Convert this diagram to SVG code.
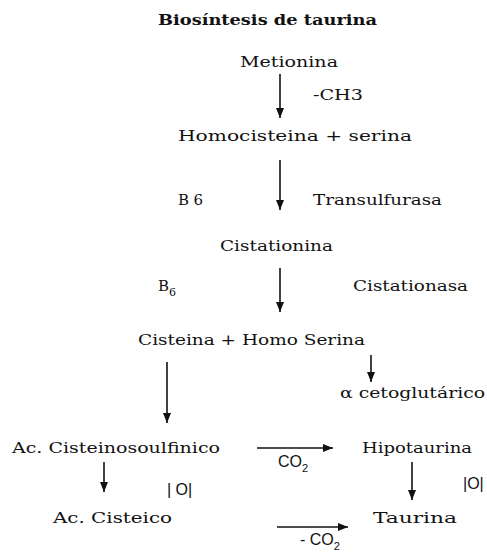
<svg xmlns="http://www.w3.org/2000/svg" width="487" height="554" viewBox="0 0 487 554">
<style>
.t{font-family:"DejaVu Serif","Liberation Serif",serif;font-size:15px;fill:#111}
.b{font-weight:bold;font-size:15px}
.s{font-family:"Liberation Sans","DejaVu Sans",sans-serif;font-size:16px;fill:#111}
.sub{font-size:11px}
.c{stroke:#111;stroke-width:1.6;fill:none;marker-end:url(#ah)}
</style>
<defs>
<marker id="ah" markerUnits="userSpaceOnUse" markerWidth="10" markerHeight="10" viewBox="0 0 10 10" refX="10" refY="5" orient="auto">
<path d="M0,1 L10,5 L0,9 Z" fill="#111"/>
</marker>
</defs>
<rect width="487" height="554" fill="#fff"/>
<g id="title"><text class="t b" x="158" y="25" textLength="219" lengthAdjust="spacingAndGlyphs">Biosíntesis de taurina</text></g>
<g id="metionina"><text class="t" x="240" y="67" textLength="98" lengthAdjust="spacingAndGlyphs">Metionina</text></g>
<g id="ch3"><text class="t" x="313" y="100" textLength="50" lengthAdjust="spacingAndGlyphs">-CH3</text></g>
<g id="homocisteina"><text class="t" x="178" y="141" textLength="234" lengthAdjust="spacingAndGlyphs">Homocisteina +  serina</text></g>
<g id="b6a"><text class="t" x="178" y="205" textLength="25" lengthAdjust="spacing">B6</text></g>
<g id="transulfurasa"><text class="t" x="313" y="205" textLength="129" lengthAdjust="spacingAndGlyphs">Transulfurasa</text></g>
<g id="cistationina"><text class="t" x="220" y="251" textLength="113" lengthAdjust="spacingAndGlyphs">Cistationina</text></g>
<g id="b6b"><text class="t" x="158" y="291">B<tspan class="sub" dy="5">6</tspan></text></g>
<g id="cistationasa"><text class="t" x="353" y="291" textLength="115" lengthAdjust="spacingAndGlyphs">Cistationasa</text></g>
<g id="cisteina"><text class="t" x="138" y="345" textLength="227" lengthAdjust="spacingAndGlyphs">Cisteina + Homo Serina</text></g>
<g id="cetoglutarico"><text class="t" x="340" y="398" textLength="145" lengthAdjust="spacingAndGlyphs">α cetoglutárico</text></g>
<g id="cisteinosoulfinico"><text class="t" x="12" y="453" textLength="208" lengthAdjust="spacingAndGlyphs">Ac. Cisteinosoulfinico</text></g>
<g id="hipotaurina"><text class="t" x="362" y="453" textLength="110" lengthAdjust="spacingAndGlyphs">Hipotaurina</text></g>
<g id="co2a"><text class="s" x="278" y="467">CO<tspan class="sub" dy="5">2</tspan></text></g>
<g id="o1"><text class="s" x="167" y="495">| O|</text></g>
<g id="o2"><text class="s" x="463" y="489">|O|</text></g>
<g id="cisteico"><text class="t" x="53" y="523" textLength="119" lengthAdjust="spacingAndGlyphs">Ac. Cisteico</text></g>
<g id="taurina"><text class="t" x="373" y="523" textLength="84" lengthAdjust="spacingAndGlyphs">Taurina</text></g>
<g id="co2b"><text class="s" x="300" y="545">- CO<tspan class="sub" dy="5">2</tspan></text></g>
<g id="connectors">
<line class="c" x1="280" y1="74" x2="280" y2="118"/>
<line class="c" x1="280" y1="160" x2="280" y2="210"/>
<line class="c" x1="280" y1="268" x2="280" y2="312"/>
<line class="c" x1="371" y1="355" x2="371" y2="382"/>
<line class="c" x1="167" y1="362" x2="167" y2="423"/>
<line class="c" x1="257" y1="448" x2="333" y2="448"/>
<line class="c" x1="104" y1="462" x2="104" y2="492"/>
<line class="c" x1="412" y1="462" x2="412" y2="500"/>
<line class="c" x1="277" y1="527" x2="348" y2="527"/>
</g>
</svg>
